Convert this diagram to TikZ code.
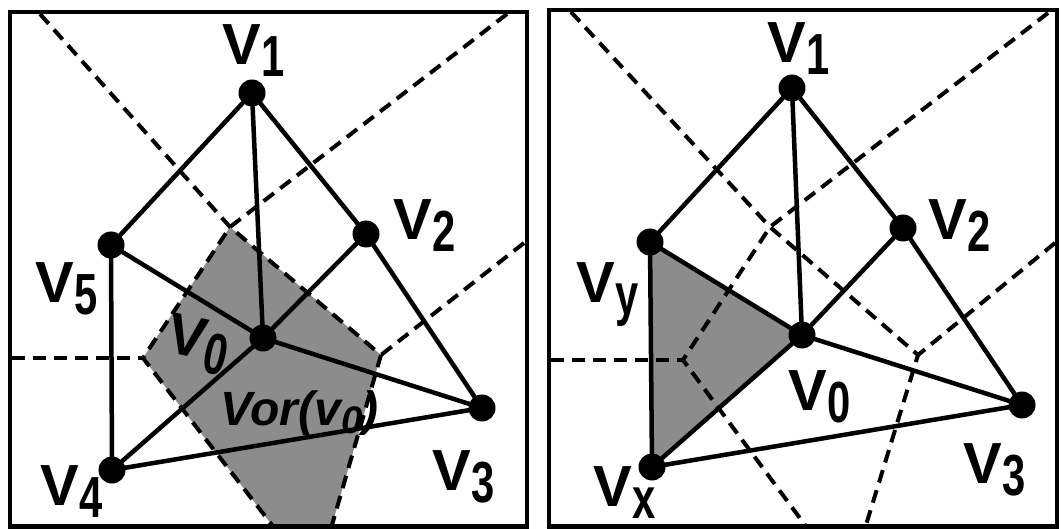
\documentclass[tikz,border=0pt]{standalone}
\usepackage{fontspec}
\setsansfont{Liberation Sans}
\usepackage{graphicx}
\usetikzlibrary{backgrounds}
\newcommand{\vlab}[1]{V\kern1pt\raisebox{-12pt}{\scalebox{0.72}[1]{#1}}}
\definecolor{cellgray}{gray}{0.55}

\begin{document}
\begin{tikzpicture}[
  x=1pt, y=-1pt,
  frame/.style={draw, line width=4.5pt},
  edge/.style={draw, line width=4.5pt, line cap=round},
  vor/.style={draw, line width=4pt, dash pattern=on 13pt off 8pt},
  vdot/.style={circle, fill=black, inner sep=0pt, minimum size=27pt},
  vname/.style={anchor=base west, inner sep=0pt, font=\fontsize{58}{60}\selectfont\sffamily\bfseries},
  cell/.style={fill=cellgray},
]
  \useasboundingbox (0,0) rectangle (1061,529);

  % Frames
  \draw[frame] (10,12) rectangle (527,526.5);
  \draw[frame] (549,10) rectangle (1057,526.5);

  % Left panel: sites
  \foreach \n/\x/\y in {0/263/338, 1/252/93, 2/366/234, 3/482/408, 4/112/470, 5/111/245}
    \node[vdot] (a\n) at (\x,\y) {};
  \foreach \s/\t in {1/5, 1/0, 1/2, 2/3, 2/0, 5/0, 0/4, 0/3, 5/4, 4/3}
    \draw[edge] (a\s) -- (a\t);

  % Left panel: Voronoi vertices
  \coordinate (aT) at (230,227);
  \coordinate (aR) at (381,355);
  \coordinate (aL) at (143,358);
  \coordinate (aBL) at (272,525);
  \coordinate (aBR) at (332,525);

  \begin{scope}[on background layer]
    \fill[cell] (aT) -- (aR) -- (aBR) -- (aBL) -- (aL) -- cycle;
    \draw[vor] (40,14) -- (aT) -- (aR) -- (aBR);
    \draw[vor] (507,14) -- (aT) -- (aL) -- (aBL);
    \draw[vor] (524,243) -- (aR);
    \draw[vor] (12,358) -- (aL);
  \end{scope}

  % Left panel: labels
  \node[vname] (la1) at (222,65) {\vlab{1}};
  \node[vname] (la2) at (393,240) {\vlab{2}};
  \node[vname] (la3) at (432,490) {\vlab{3}};
  \node[vname] (la4) at (40,505) {\vlab{4}};
  \node[vname] (la5) at (35,303) {\vlab{5}};
  \node[vname, rotate=-12] (la0) at (164,351) {\vlab{0}};
  \node[anchor=base west, inner sep=0pt, font=\fontsize{48}{50}\selectfont\sffamily\bfseries\itshape]
    (vorlab) at (220,426) {Vor(v\raisebox{-8pt}{\scalebox{0.8}{0}})};

  % Right panel: sites
  \foreach \n/\x/\y in {0/802/335, 1/792/88, 2/903/228, 3/1022/405, x/652/467, y/650/242}
    \node[vdot] (b\n) at (\x,\y) {};
  \foreach \s/\t in {1/y, 1/0, 1/2, 2/3, 2/0, y/0, 0/x, 0/3, y/x, x/3}
    \draw[edge] (b\s) -- (b\t);

  % Right panel: Voronoi vertices
  \coordinate (bT) at (770,227);
  \coordinate (bR) at (918,355);
  \coordinate (bL) at (683,360);
  \coordinate (bBL) at (805,525);
  \coordinate (bBR) at (866,525);

  \begin{scope}[on background layer]
    \fill[cell] (by.center) -- (b0.center) -- (bx.center) -- cycle;
    \draw[vor] (571,12) -- (bT) -- (bR) -- (bBR);
    \draw[vor] (1048,13) -- (bT) -- (bL) -- (bBL);
    \draw[vor] (1055,243) -- (bR);
    \draw[vor] (551,360) -- (bL);
  \end{scope}

  % Right panel: labels
  \node[vname] (lb1) at (767,63) {\vlab{1}};
  \node[vname] (lb2) at (928,240) {\vlab{2}};
  \node[vname] (lb3) at (963,483) {\vlab{3}};
  \node[vname] (lbx) at (593,506) {\vlab{x}};
  \node[vname] (lby) at (576,303) {\vlab{y}};
  \node[vname] (lb0) at (788,410) {\vlab{0}};
\end{tikzpicture}
\end{document}
